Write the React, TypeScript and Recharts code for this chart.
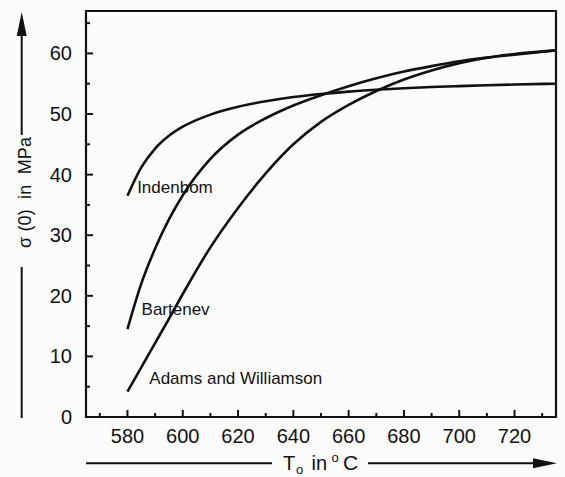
import React from 'react';
import { LineChart, Line, XAxis, YAxis, ReferenceDot, ReferenceArea } from 'recharts';

// Annealing temperature T0 (°C) and resulting yield stress σ(0) (MPa)
const temps = [580, 585, 590, 595, 600, 610, 620, 630, 640, 650, 660, 670, 680, 690, 700, 710, 720, 735];
const indenbom = [36.5, 41.2, 44.3, 46.4, 47.9, 49.9, 51.2, 52.1, 52.8, 53.3, 53.7, 54.0, 54.25, 54.45, 54.6, 54.75, 54.87, 55.0];
const bartenev = [14.5, 22.0, 27.8, 32.6, 36.6, 42.6, 46.6, 49.3, 51.4, 53.1, 54.6, 55.9, 57.0, 57.9, 58.7, 59.3, 59.8, 60.5];
const adamsWilliamson = [4.2, 8.2, 12.2, 16.2, 20.3, 28.0, 34.5, 40.2, 45.0, 48.7, 51.5, 53.8, 55.7, 57.2, 58.4, 59.3, 59.9, 60.5];

const xTicks = [570, 580, 590, 600, 610, 620, 630, 640, 650, 660, 670, 680, 690, 700, 710, 720, 730];
const yTicks = [0, 5, 10, 15, 20, 25, 30, 35, 40, 45, 50, 55, 60, 65];

const curveNames = ['Indenbom', 'Bartenev', 'Adams and Williamson'];
const nameAnchorT = [583.5, 585.1, 587.9];
const nameAnchorS = [37.9, 17.8, 6.5];

const T_MIN = 565;
const T_MAX = 735;
const S_MAX = 67;

const rows = temps.map((t, i) => ({
  t,
  indenbom: indenbom[i],
  bartenev: bartenev[i],
  adams: adamsWilliamson[i],
}));

const INK = '#111';
const FONT = '"Liberation Sans", Arial, Helvetica, sans-serif';

const BottomTick = (props: any) => {
  const { x, y, payload } = props;
  const major = payload.value % 20 === 0;
  return (
    <g>
      <line x1={x} x2={x} y1={y} y2={y - (major ? 7 : 4)} stroke={INK} strokeWidth={2} />
      {major && (
        <text x={x} y={y + 26} textAnchor="middle" fontSize={20} fontFamily={FONT} fill={INK}>
          {payload.value}
        </text>
      )}
    </g>
  );
};

const TopTick = (props: any) => {
  const { x, y } = props;
  return <line x1={x} x2={x} y1={y} y2={y + 5} stroke={INK} strokeWidth={2} />;
};

const LeftTick = (props: any) => {
  const { x, y, payload } = props;
  const major = payload.value % 10 === 0;
  return (
    <g>
      <line x1={x} x2={x + (major ? 7 : 4)} y1={y} y2={y} stroke={INK} strokeWidth={2} />
      {major && (
        <text x={x - 14} y={y + 7} textAnchor="end" fontSize={20} fontFamily={FONT} fill={INK}>
          {payload.value}
        </text>
      )}
    </g>
  );
};

const RightTick = (props: any) => {
  const { x, y } = props;
  return <line x1={x} x2={x - 5} y1={y} y2={y} stroke={INK} strokeWidth={2} />;
};

const axisLine = { stroke: INK, strokeWidth: 2 };

export default function App() {
  return (
    <div style={{ position: 'absolute', left: 0, top: 0, width: 565, height: 477, background: '#fcfcfc' }}>
      <LineChart width={565} height={477} data={rows} margin={{ top: 11, right: 9, bottom: 30, left: 0 }}>
        <XAxis
          dataKey="t"
          type="number"
          domain={[T_MIN, T_MAX]}
          allowDataOverflow
          ticks={xTicks}
          interval={0}
          tickSize={0}
          tickMargin={0}
          tickLine={false}
          stroke={INK}
          axisLine={axisLine}
          height={30}
          tick={BottomTick}
        />
        <XAxis
          xAxisId="top"
          orientation="top"
          dataKey="t"
          type="number"
          domain={[T_MIN, T_MAX]}
          allowDataOverflow
          ticks={xTicks}
          interval={0}
          tickSize={0}
          tickMargin={0}
          tickLine={false}
          stroke={INK}
          axisLine={axisLine}
          height={0}
          tick={TopTick}
        />
        <YAxis
          type="number"
          domain={[0, S_MAX]}
          allowDataOverflow
          ticks={yTicks}
          interval={0}
          tickSize={0}
          tickMargin={0}
          tickLine={false}
          stroke={INK}
          axisLine={axisLine}
          width={86}
          tick={LeftTick}
        />
        <YAxis
          yAxisId="right"
          orientation="right"
          type="number"
          domain={[0, S_MAX]}
          allowDataOverflow
          ticks={yTicks}
          interval={0}
          tickSize={0}
          tickMargin={0}
          tickLine={false}
          stroke={INK}
          axisLine={axisLine}
          width={0}
          tick={RightTick}
        />
        {/* plot frame */}
        <ReferenceArea
          x1={T_MIN}
          x2={T_MAX}
          y1={0}
          y2={S_MAX}
          fill="none"
          fillOpacity={0}
          stroke={INK}
          strokeWidth={2.2}
          strokeOpacity={1}
          ifOverflow="visible"
        />
        <Line type="monotone" dataKey="indenbom" stroke={INK} strokeWidth={2.6} dot={false} isAnimationActive={false} />
        <Line type="monotone" dataKey="bartenev" stroke={INK} strokeWidth={2.6} dot={false} isAnimationActive={false} />
        <Line type="monotone" dataKey="adams" stroke={INK} strokeWidth={2.6} dot={false} isAnimationActive={false} />
        {curveNames.map((name, i) => (
          <ReferenceDot
            key={name}
            x={nameAnchorT[i]}
            y={nameAnchorS[i]}
            r={0}
            fill="none"
            stroke="none"
            label={{ value: name, position: 'right', offset: 0, fontSize: 17, fontFamily: FONT, fill: INK }}
          />
        ))}
      </LineChart>
      <svg
        width={565}
        height={477}
        style={{ position: 'absolute', left: 0, top: 0, pointerEvents: 'none' }}
        fontFamily={FONT}
        fill={INK}
      >
        {/* vertical axis title with arrow */}
        <line x1={21.7} x2={21.7} y1={34} y2={135} stroke={INK} strokeWidth={2} />
        <polygon points="21.7,12 16.7,36 26.7,36" fill={INK} />
        <line x1={21.7} x2={21.7} y1={267} y2={418} stroke={INK} strokeWidth={2} />
        <text
          x={31}
          y={192.5}
          transform="rotate(-90 31 192.5)"
          textAnchor="middle"
          fontSize={18}
          textLength={111}
          lengthAdjust="spacing"
          style={{ whiteSpace: 'pre' }}
        >
          {'σ (0)  in  MPa'}
        </text>
        {/* horizontal axis title with arrow */}
        <line x1={86} x2={272} y1={463.3} y2={463.3} stroke={INK} strokeWidth={2} />
        <line x1={368} x2={536} y1={463.3} y2={463.3} stroke={INK} strokeWidth={2} />
        <polygon points="557,463.3 533,458.3 533,468.3" fill={INK} />
        <text fontSize={20}>
          <tspan x={283} y={470}>T</tspan>
          <tspan x={296} y={473.5} fontSize={13}>o</tspan>
          <tspan x={311.5} y={470}>in</tspan>
          <tspan x={331.5} y={461.7} fontSize={13}>o</tspan>
          <tspan x={343} y={470} fontSize={21}>C</tspan>
        </text>
      </svg>
    </div>
  );
}
